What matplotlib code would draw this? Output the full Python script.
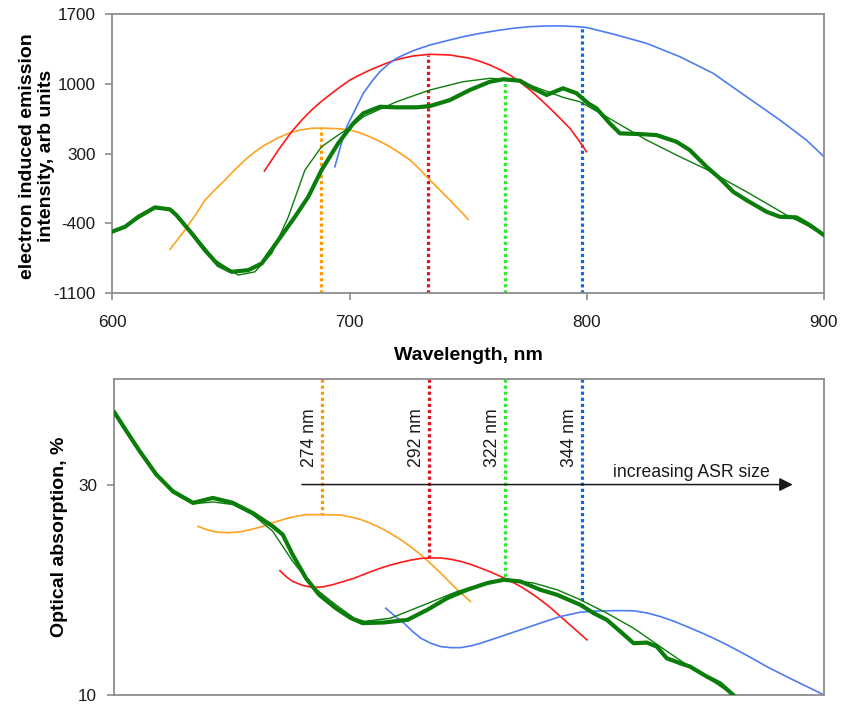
import matplotlib
matplotlib.use("Agg")
import matplotlib.pyplot as plt

plt.rcParams['font.family'] = ['Liberation Sans', 'DejaVu Sans']
plt.rcParams['axes.unicode_minus'] = False

# ---------------- top panel data (emission) ----------------
em_green_x = [599.7, 605.4, 611, 618, 624.3, 627, 633.5, 639, 644.7, 650.3, 657.3, 663, 670, 677,
              682.6, 688.2, 695.2, 701.6, 705.8, 712.8, 719.8, 728.3, 733.9, 742.3, 750.7, 759.2,
              764.8, 771.8, 777.4, 783.1, 790, 795.7, 800.6, 804.1, 809.7, 814, 822.4, 829.4,
              837.8, 843.4, 850.5, 856.1, 861.7, 867.3, 875.8, 881.4, 888.4, 894, 900]
em_green_y = [-484, -433, -333, -239, -259, -316, -500, -667, -818, -885, -868, -801, -567, -333,
              -133, 135, 403, 604, 704, 770, 764, 764, 777, 837, 938, 1021,
              1045, 1031, 955, 888, 955, 905, 804, 754, 604, 503, 496, 486,
              419, 336, 168, 52, -82, -166, -283, -333, -339, -416, -517]

em_fit_x = [599.7, 611, 618, 625, 633.5, 643.3, 653.1, 660.1, 667.2, 674.2, 681.2, 688.2, 695.2,
            701.6, 705.8, 719.8, 733.9, 747.9, 759.2, 770.4, 781.6, 790, 797.1, 808.3, 825.2,
            839.2, 850.5, 858.9, 867.3, 875.8, 884.2, 892.6, 900]
em_fit_y = [-494, -349, -249, -266, -484, -767, -918, -885, -700, -333, 135, 369, 486,
            587, 670, 820, 938, 1021, 1055, 1038, 938, 864, 820, 670, 436,
            269, 142, 28, -82, -199, -316, -416, -517]

em_orange_x = [624.3, 630.6, 635, 639.1, 643.3, 647.5, 651.7, 655.9, 660.1, 664.3, 669.2, 674.2,
               679, 684, 688.2, 695.2, 700.2, 704.4, 708.6, 712.8, 717, 721.2, 725.5, 729.7,
               733.9, 738.1, 742.3, 746.2, 750]
em_orange_y = [-660, -466, -316, -166, -62, 35, 140, 236, 318, 386, 450, 503,
               536, 554, 556, 550, 537, 508, 469, 423, 369, 306, 236, 140,
               35, -65, -166, -262, -359]

em_red_x = [664.1, 670, 675.6, 679.8, 684, 688.2, 692.5, 696.4, 700.2, 704.4, 708.6, 713.5,
            718.4, 722.6, 726.8, 733.9, 742.3, 750.7, 755, 759.2, 763.4, 767.6, 771.8, 776.1,
            780.3, 784.5, 788.7, 792.9, 796.4, 799.9]
em_red_y = [125, 336, 520, 635, 737, 825, 905, 975, 1038, 1090, 1138, 1187,
            1232, 1258, 1279, 1296, 1289, 1256, 1225, 1188, 1142, 1088, 1018, 938,
            848, 754, 655, 554, 440, 319]

em_blue_x = [693.8, 696.3, 698.8, 702.3, 705.8, 709.3, 712.8, 716.3, 719.8, 726.8, 733.9, 741,
             747.9, 755, 762, 769, 776.1, 783, 790, 795.7, 799.9, 811.1, 825.2, 839.2,
             853.3, 867.3, 881.4, 892.6, 900]
em_blue_y = [168, 380, 570, 737, 905, 1021, 1121, 1196, 1256, 1332, 1389, 1432,
             1472, 1506, 1533, 1557, 1573, 1580, 1580, 1573, 1565, 1499, 1406, 1272,
             1105, 871, 637, 436, 269]

# peak wavelengths (nm) and their heights in each panel
peak_wl = [687.8, 733.0, 765.4, 797.8]
peak_em = [554, 1292, 1045, 1560]
peak_abs = [27.14, 23.0, 20.95, 18.4]
size_labels = ['274 nm', '292 nm', '322 nm', '344 nm']

# ---------------- bottom panel data (absorption) ----------------
ab_green_x = [600.4, 605.4, 611, 618, 625, 633.5, 641.9, 650.3, 658.7, 667.2, 671.4, 675.6,
              681.2, 686.8, 693.8, 700.2, 705.1, 714.2, 724.1, 732.5, 740.9, 749.3, 757.8,
              764.8, 771.8, 780.2, 787.3, 797.1, 802.7, 808.3, 814, 819.6, 825.2, 829.4,
              833.6, 839.2, 843.4, 850.5, 856.1, 861.7]
ab_green_y = [36.83, 35.08, 33.17, 30.95, 29.36, 28.26, 28.73, 28.26, 27.30, 26.03, 25.24, 23.33,
              21.11, 19.52, 18.25, 17.3, 16.83, 16.89, 17.14, 18.1, 19.21, 20.0, 20.64,
              20.95, 20.79, 20.0, 19.52, 18.57, 17.78, 17.14, 16.03, 14.92, 14.98, 14.6,
              13.49, 13.02, 12.7, 11.75, 11.11, 10.0]

ab_fit_x = [600.4, 611, 625, 633.5, 641.9, 650.3, 658.7, 667.2, 675.6, 684, 693.8, 701.6,
            706, 717, 731.1, 745.1, 759.2, 766.2, 777.4, 787.3, 797.1, 808.3, 819.6, 830.8,
            842.1, 853.3, 861.7]
ab_fit_y = [36.67, 33.0, 29.2, 28.16, 28.35, 28.1, 27.14, 25.56, 22.7, 20.32, 18.57, 17.3,
            17.0, 17.3, 18.57, 19.84, 20.79, 20.95, 20.64, 20.0, 19.05, 17.78, 16.35, 14.6,
            12.86, 11.27, 10.0]

ab_orange_x = [635.6, 639.5, 643.3, 648.2, 653.1, 658, 663, 667.9, 672.8, 677, 681.2, 688.2,
               696, 700.2, 704.4, 708.6, 712.8, 717, 721.2, 725.5, 729.7, 733.9, 738.1, 741.6,
               745.1, 750.7]
ab_orange_y = [26.03, 25.70, 25.49, 25.42, 25.49, 25.72, 26.03, 26.42, 26.76, 26.98, 27.14, 27.14,
               27.1, 26.92, 26.67, 26.31, 25.87, 25.35, 24.76, 24.08, 23.33, 22.48, 21.59, 20.8,
               20.0, 18.89]

ab_red_x = [670.2, 672.9, 675.6, 679.8, 684, 688.2, 692.5, 697, 701.6, 707.2, 712.8, 717,
            721.2, 725.5, 729.7, 733.9, 738.1, 742.3, 746.5, 750.7, 755, 759.2, 763.4, 767.6,
            771.8, 776, 780.2, 784.5, 788.7, 794.3, 799.9]
ab_red_y = [21.81, 21.25, 20.79, 20.42, 20.22, 20.27, 20.48, 20.78, 21.1, 21.6, 22.06, 22.36,
            22.6, 22.82, 22.98, 23.03, 23.02, 22.9, 22.70, 22.42, 22.06, 21.69, 21.27, 20.82,
            20.32, 19.72, 19.05, 18.3, 17.46, 16.35, 15.24]

ab_blue_x = [714.9, 718.8, 722.6, 726.2, 729.7, 733.9, 738.1, 742.3, 746.5, 750.7, 755, 763.4,
             771.8, 780.2, 788.7, 797.1, 802.7, 808.3, 814, 819.6, 825.2, 830.8, 836.5, 842.1,
             847.7, 853.3, 858.9, 864.5, 870.2, 875.8, 881.4, 887, 893.5, 900]
ab_blue_y = [18.25, 17.5, 16.83, 16.05, 15.4, 14.92, 14.6, 14.5, 14.5, 14.66, 14.92, 15.55,
             16.19, 16.83, 17.46, 17.87, 17.97, 18.0, 18.02, 18.0, 17.8, 17.46, 17.02, 16.5,
             15.97, 15.4, 14.78, 14.12, 13.42, 12.7, 12.06, 11.43, 10.72, 10.0]

arrow_x = [679.5, 886.8]
arrow_y = 30
arrow_text = 'increasing ASR size'

# ---------------- styles ----------------
C_ORANGE = '#FFA21F'
C_RED = '#FF1A1A'
C_BLUE = '#4D7CF2'
C_GREEN = '#0A7D0A'
V_COLORS = ['#FF9900', '#E0141E', '#2EEA2E', '#1166E8']
SPINE = '#8C8C8C'
dot = (0, (1.0, 0.9))

fig = plt.figure(figsize=(8.42, 7.06), dpi=100)
ax1 = fig.add_axes([0.1334, 0.5846, 0.8452, 0.3956])
ax2 = fig.add_axes([0.1350, 0.0156, 0.8436, 0.4471])

for ax in (ax1, ax2):
    for s in ax.spines.values():
        s.set_color(SPINE)
        s.set_linewidth(1.3)
    ax.tick_params(direction='out', length=5, width=1.2, color=SPINE,
                   labelsize=12.3, labelcolor='#1a1a1a')
    ax.set_xlim(600, 900)

# top panel
for xw, ym, c in zip(peak_wl, peak_em, V_COLORS):
    ax1.plot([xw, xw], [-1100, ym], color=c, lw=2.3, ls=dot, zorder=1)
ax1.plot(em_orange_x, em_orange_y, color=C_ORANGE, lw=1.2, zorder=2)
ax1.plot(em_red_x, em_red_y, color=C_RED, lw=1.2, zorder=2)
ax1.plot(em_blue_x, em_blue_y, color=C_BLUE, lw=1.2, zorder=2)
ax1.plot(em_green_x, em_green_y, color=C_GREEN, lw=3.0, zorder=3)
ax1.plot(em_fit_x, em_fit_y, color=C_GREEN, lw=1.0, zorder=4)
ax1.set_ylim(-1100, 1700)
ax1.set_yticks([-1100, -400, 300, 1000, 1700])
ax1.set_xticks([600, 700, 800, 900])
ax1.tick_params(axis='x', pad=11)
ax1.tick_params(axis='y', pad=7)
ax1.set_xlabel('Wavelength, nm', fontsize=14, fontweight='bold', labelpad=12)
ax1.set_ylabel('electron induced emission\nintensity, arb units', fontsize=14,
               fontweight='bold', linespacing=1.15)
ax1.yaxis.set_label_coords(-0.080, 0.49)

# bottom panel
for xw, ya, c in zip(peak_wl, peak_abs, V_COLORS):
    ax2.plot([xw, xw], [40, ya], color=c, lw=2.3, ls=dot, zorder=1)
ax2.plot(ab_orange_x, ab_orange_y, color=C_ORANGE, lw=1.2, zorder=2)
ax2.plot(ab_red_x, ab_red_y, color=C_RED, lw=1.2, zorder=2)
ax2.plot(ab_blue_x, ab_blue_y, color=C_BLUE, lw=1.2, zorder=2)
ax2.plot(ab_green_x, ab_green_y, color=C_GREEN, lw=3.0, zorder=3)
ax2.plot(ab_fit_x, ab_fit_y, color=C_GREEN, lw=1.0, zorder=4)
ax2.set_ylim(10, 40)
ax2.set_yticks([10, 30])
ax2.set_xticks([])
ax2.tick_params(axis='y', pad=7)
ax2.set_ylabel('Optical absorption, %', fontsize=14, fontweight='bold')
ax2.yaxis.set_label_coords(-0.064, 0.5)

for xw, lab in zip(peak_wl, size_labels):
    ax2.text(xw - 5.2, 34.45, lab, rotation=90, ha='center', va='center',
             fontsize=12.7, color='#1a1a1a')

ax2.annotate('', xy=(arrow_x[1], arrow_y), xytext=(arrow_x[0], arrow_y),
             arrowprops=dict(arrowstyle='-|>', color='#1a1a1a', lw=1.1,
                             mutation_scale=20, shrinkA=0, shrinkB=0), zorder=5)
ax2.text(810.8, arrow_y + 0.35, arrow_text, ha='left', va='bottom',
         fontsize=12.7, color='#1a1a1a')

fig.savefig('out.png', dpi=100)
